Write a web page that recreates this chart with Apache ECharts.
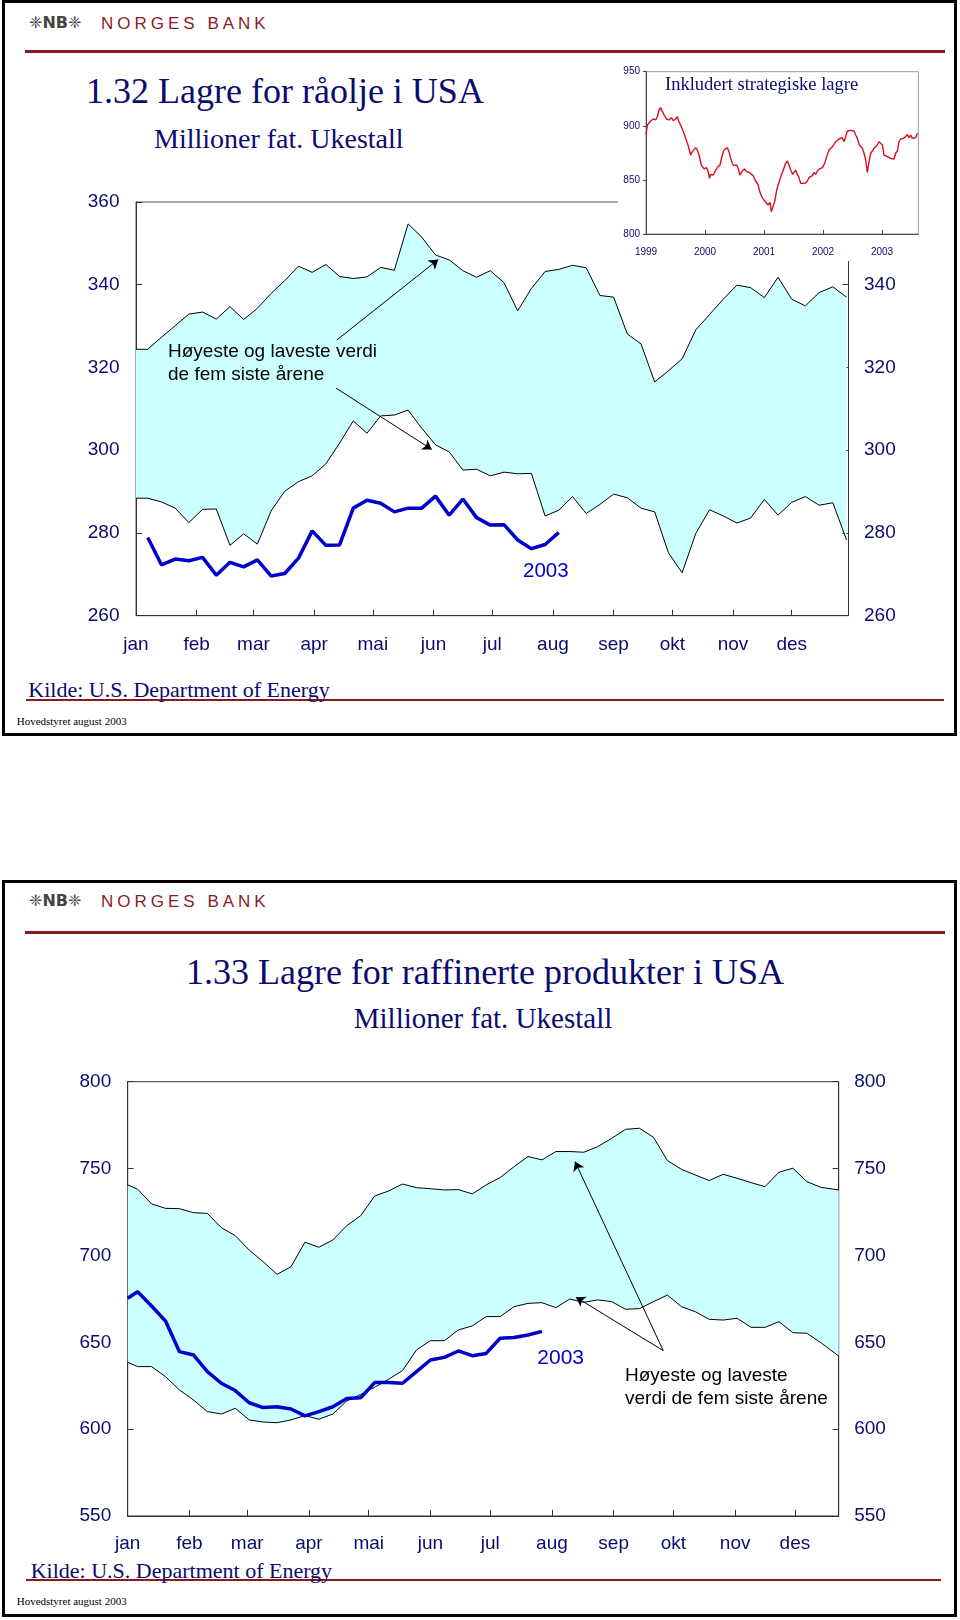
<!DOCTYPE html>
<html>
<head>
<meta charset="utf-8">
<script src="https://cdn.jsdelivr.net/npm/echarts@6/dist/echarts.min.js"></script>
<style>
html,body{margin:0;padding:0;background:#fff;}
#page{position:relative;width:960px;height:1620px;overflow:hidden;background:#fff;}
.abs{position:absolute;white-space:nowrap;}
.serif{font-family:'Liberation Serif','Times New Roman',serif;line-height:1;}
.sans{font-family:'Liberation Sans',Arial,sans-serif;line-height:1;}
.navy{color:#0b0b6e;}
.red{background:#8b1a1a;}
.frame{border:3px solid #000;box-sizing:border-box;}
.nb{font-family:'Liberation Sans',Arial,sans-serif;font-size:17px;line-height:1;color:#8b1a2a;letter-spacing:4px;}
.logo{font-family:'DejaVu Sans',sans-serif;font-size:16px;line-height:1;color:#444;font-weight:bold;}
</style>
</head>
<body>
<div id="page">
  <!-- panel 1 decorations -->
  <div class="abs frame" style="left:2px;top:0;width:955px;height:736px;"></div>
  <div class="abs logo" style="left:29px;top:15px;">&#x2748;NB&#x2748;</div>
  <div class="abs nb" style="left:101px;top:15px;">NORGES BANK</div>
  <div class="abs red" style="left:25px;top:49.5px;width:920px;height:3px;"></div>
  <div class="abs serif navy" style="left:86px;top:73px;font-size:36px;">1.32 Lagre for råolje i USA</div>
  <div class="abs serif navy" style="left:154px;top:124.5px;font-size:28px;">Millioner fat. Ukestall</div>
  <div class="abs red" style="left:26px;top:698.5px;width:918px;height:2px;"></div>
  <div class="abs serif navy" style="left:28.3px;top:679.3px;font-size:22px;">Kilde: U.S. Department of Energy</div>
  <div class="abs serif" style="left:16.7px;top:715.8px;font-size:11px;color:#000;">Hovedstyret august 2003</div>

  <!-- panel 2 decorations -->
  <div class="abs frame" style="left:2px;top:879.5px;width:954.5px;height:737px;"></div>
  <div class="abs logo" style="left:29px;top:893px;">&#x2748;NB&#x2748;</div>
  <div class="abs nb" style="left:101px;top:893px;">NORGES BANK</div>
  <div class="abs red" style="left:25px;top:930.5px;width:920px;height:3px;"></div>
  <div class="abs serif navy" style="left:85px;width:800px;text-align:center;top:954px;font-size:36px;">1.33 Lagre for raffinerte produkter i USA</div>
  <div class="abs serif navy" style="left:83px;width:800px;text-align:center;top:1004.2px;font-size:29px;">Millioner fat. Ukestall</div>
  <div class="abs red" style="left:26px;top:1579px;width:915px;height:2px;"></div>
  <div class="abs serif navy" style="left:30.7px;top:1559.9px;font-size:22px;">Kilde: U.S. Department of Energy</div>
  <div class="abs serif" style="left:16.7px;top:1595.8px;font-size:11px;color:#000;">Hovedstyret august 2003</div>

  <div id="main" class="abs" style="left:0;top:0;width:960px;height:1620px;z-index:1;"></div>
  <div id="inset" class="abs" style="left:618px;top:55px;width:322px;height:206px;background:#fff;z-index:2;"></div>

  <!-- chart annotations -->
  <div class="abs serif navy" style="left:665px;top:75.2px;font-size:18.5px;z-index:3;">Inkludert strategiske lagre</div>
  <div class="abs sans" style="left:168px;top:338.5px;font-size:19px;line-height:23.3px;color:#000;z-index:3;">Høyeste og laveste verdi<br>de fem siste årene</div>
  <div class="abs sans" style="left:523px;top:560px;font-size:20.5px;color:#0000cc;z-index:3;">2003</div>
  <div class="abs sans" style="left:625px;top:1362.5px;font-size:19px;line-height:23.3px;color:#000;z-index:3;">Høyeste og laveste<br>verdi de fem siste årene</div>
  <div class="abs sans" style="left:537.3px;top:1345.5px;font-size:21px;color:#0000cc;z-index:3;">2003</div>
</div>

<script>
// ---------- shared axis data ----------
const monthNames = ['jan','feb','mar','apr','mai','jun','jul','aug','sep','okt','nov','des'];
const monthStartDays = [0,31,60,91,121,152,182,213,244,274,305,335];

// ---------- Chart 1.32: crude oil stocks (mill. barrels), weekly ----------
const c1Days = [0,6,13,20,27,34,41,48,55,62,69,76,83,90,97,104,111,118,125,132,139,146,153,160,167,174,181,188,195,202,209,216,223,230,237,244,251,258,265,272,279,286,293,300,307,314,321,328,335,342,349,356,363];
const c1Upper = [324.4,324.4,327.3,330.1,332.9,333.4,331.7,334.7,331.6,334.3,337.9,341.0,344.5,343.0,344.9,342.0,341.5,341.9,344.2,343.5,354.7,351.5,347.2,346.0,343.4,341.8,343.4,340.5,333.7,339.1,343.2,343.7,344.7,344.1,337.4,337.0,328.1,325.7,316.5,319.2,322.1,329.1,332.8,336.5,339.9,339.3,336.9,341.8,336.5,334.9,338.1,339.5,337.0];
const c1Lower = [288.4,288.4,287.5,286.0,282.5,285.7,285.8,277.0,279.8,277.3,285.3,290.1,292.4,293.8,296.7,301.7,307.1,304.1,308.3,308.5,309.7,305.3,301.3,299.6,295.2,295.4,293.8,294.7,294.3,294.4,284.1,285.5,288.8,284.7,286.9,289.4,288.5,286.0,285.1,275.2,270.4,279.9,285.6,284.1,282.4,283.6,288.1,284.3,287.4,288.8,286.7,287.3,278.3];
const c1Days2003 = [6,13,20,27,34,41,48,55,62,69,76,83,90,97,104,111,118,125,132,139,146,153,160,167,174,181,188,195,202,209,216];
const c1Values2003 = [278.9,272.3,273.7,273.3,274.1,269.8,272.9,271.8,273.5,269.6,270.2,273.9,280.5,277.0,277.1,286.0,287.9,287.2,285.1,286.0,286.0,288.9,284.3,288.2,283.7,281.9,282.0,278.3,276.2,277.2,280.1];
// annotation arrows [tailDay, tailValue, headDay, headValue]
const c1Arrows = [[102.5,326.6,154.4,346.1],[102.2,315.0,151.1,300.2]];

// ---------- Chart 1.33: refined products stocks ----------
const c2Days = [0,5,12,19,26,33,40,47,54,61,68,75,82,89,96,103,110,117,124,131,138,145,152,159,166,173,180,187,194,201,208,215,222,229,236,243,250,257,264,271,278,285,292,299,306,313,320,327,334,341,348,357];
const c2Upper = [740.6,738.1,729.6,727.1,726.9,724.6,724.2,716.0,711.4,703.1,696.4,689.1,693.5,707.6,704.7,708.9,717.1,722.9,734.2,737.1,741.1,739.0,738.4,737.7,737.9,735.4,740.6,744.8,751.1,756.9,755.0,759.8,759.8,759.4,762.6,767.4,772.6,773.2,768.0,754.6,749.6,746.3,743.1,746.7,744.4,741.9,739.6,747.9,750.2,742.5,739.2,737.7];
const c2Lower = [638.5,636.0,636.0,630.2,622.5,616.8,610.1,608.7,612.0,605.3,604.1,603.7,605.3,607.8,605.7,608.7,616.2,620.0,624.1,628.7,633.7,645.6,650.9,650.9,657.1,659.4,664.8,664.8,670.5,672.4,672.8,669.9,674.9,673.0,674.4,673.4,669.0,669.4,673.4,677.2,670.5,667.6,663.2,662.8,663.8,658.6,658.6,661.9,655.5,655.2,649.8,642.1];
const c2Days2003 = [0,5,12,19,26,33,40,47,54,61,68,75,82,89,96,103,110,117,124,131,138,145,152,159,166,173,180,187,194,201,208];
const c2Values2003 = [675.3,679.1,670.9,662.2,644.6,642.7,633.1,626.4,622.2,615.2,612.4,612.9,611.6,607.6,610.1,612.9,617.7,618.1,626.8,626.8,626.4,633.1,639.8,641.3,645.0,642.3,643.6,652.3,652.7,654.2,656.3];
const c2Arrows = [[268.9,645.2,224.6,754.0],[268.9,645.2,225.1,675.9]];

// ---------- Inset: incl. strategic reserves ----------
const insetYearTicks = [1999,2000,2001,2002,2003];
const insetYears = [1999.000,1999.023,1999.079,1999.124,1999.164,1999.192,1999.220,1999.249,1999.277,1999.305,1999.350,1999.390,1999.429,1999.463,1999.503,1999.531,1999.559,1999.599,1999.633,1999.672,1999.712,1999.757,1999.785,1999.814,1999.842,1999.870,1999.898,1999.938,1999.983,2000.028,2000.051,2000.079,2000.096,2000.141,2000.181,2000.220,2000.254,2000.294,2000.322,2000.350,2000.379,2000.407,2000.435,2000.463,2000.492,2000.537,2000.565,2000.593,2000.633,2000.672,2000.706,2000.746,2000.774,2000.819,2000.847,2000.876,2000.898,2000.932,2000.961,2000.989,2001.028,2001.068,2001.102,2001.124,2001.153,2001.181,2001.215,2001.254,2001.294,2001.328,2001.367,2001.395,2001.424,2001.452,2001.486,2001.508,2001.537,2001.565,2001.593,2001.621,2001.650,2001.689,2001.723,2001.763,2001.791,2001.819,2001.847,2001.876,2001.904,2001.944,2001.989,2002.028,2002.062,2002.102,2002.130,2002.158,2002.186,2002.215,2002.243,2002.271,2002.299,2002.328,2002.356,2002.384,2002.412,2002.441,2002.469,2002.497,2002.525,2002.554,2002.582,2002.610,2002.638,2002.667,2002.695,2002.723,2002.751,2002.780,2002.808,2002.836,2002.864,2002.893,2002.921,2002.949,2002.977,2003.006,2003.034,2003.062,2003.090,2003.119,2003.147,2003.175,2003.203,2003.232,2003.260,2003.288,2003.316,2003.362,2003.401,2003.429,2003.458,2003.486,2003.514,2003.542,2003.571,2003.599];
const insetValues = [891.5,900.7,904.4,906.3,905.4,908.4,914.6,916.8,915.5,910.0,906.3,905.4,907.5,904.7,906.3,908.4,903.8,899.2,894.6,888.4,882.3,873.0,876.1,877.6,879.8,877.6,873.0,863.8,860.1,861.3,858.2,851.4,855.1,854.5,859.1,862.2,863.8,873.0,877.6,878.6,879.8,876.1,869.9,865.3,863.2,863.8,860.1,854.5,858.2,860.1,857.6,857.0,858.2,853.9,849.9,849.0,845.9,838.5,834.5,832.3,829.3,826.8,829.3,820.6,820.0,829.9,840.7,847.8,854.5,859.1,865.3,867.5,863.8,859.1,855.1,856.1,859.1,855.1,852.1,846.8,845.9,846.8,847.8,852.1,850.8,853.9,857.0,855.1,858.2,860.1,861.3,865.3,871.5,877.6,879.2,880.7,882.9,885.3,884.7,887.8,886.0,889.0,885.3,890.0,895.2,896.1,895.8,896.7,895.2,891.5,888.4,882.9,881.6,879.2,874.6,868.4,857.0,866.9,874.6,876.7,879.2,877.6,882.3,885.3,886.9,882.3,873.0,873.0,871.5,873.0,869.9,871.5,869.3,874.6,876.7,885.3,887.8,888.4,890.0,892.1,889.0,891.5,888.4,886.9,889.0,893.0];

// ---------- helpers ----------
const navy = '#0b0b6e';
const sansFont = "'Liberation Sans', Arial, sans-serif";
const narrowFont = "'Liberation Sans Narrow', 'Arial Narrow', sans-serif";
function pairs(xs, ys) { return xs.map((x, i) => [x, ys[i]]); }
function arrowData(list) { return list.map(a => [{coord: [a[0], a[1]]}, {coord: [a[2], a[3]]}]); }

function xAxisFor(grid, max) {
  return {
    gridIndex: grid, type: 'value', min: 0, max: max,
    axisLine: {show: true, lineStyle: {color: '#333', width: 1}},
    axisTick: {show: true, inside: true, length: 6, customValues: monthStartDays, lineStyle: {color: '#333'}},
    axisLabel: {show: true, customValues: monthStartDays, color: navy, fontFamily: sansFont, fontSize: 19, margin: grid === 0 ? 20 : 18.5,
      formatter: v => monthNames[monthStartDays.indexOf(v)] || ''},
    splitLine: {show: false}
  };
}
function yAxisFor(grid, pos, min, max, interval) {
  return {
    gridIndex: grid, type: 'value', position: pos, min: min, max: max, interval: interval,
    axisLine: {show: true, onZero: false, lineStyle: {color: '#333', width: 1}},
    axisTick: {show: true, inside: true, length: 6, lineStyle: {color: '#333'}},
    axisLabel: {color: navy, fontFamily: sansFont, fontSize: 19, margin: pos === 'left' ? 16.5 : 15.5},
    splitLine: {show: false}
  };
}
// filled band between the high and low series, drawn through the axis scales
function bandFill(xi, yi, days, hi, lo) {
  return {
    type: 'custom', xAxisIndex: xi, yAxisIndex: yi, silent: true, z: 1,
    data: [[days[0], hi[0]]],
    renderItem: function (params, api) {
      const top = days.map((d, i) => api.coord([d, hi[i]]));
      const bottom = days.map((d, i) => api.coord([d, lo[i]])).reverse();
      return {type: 'polygon', shape: {points: top.concat(bottom)}, style: {fill: '#ccffff', stroke: null}};
    }
  };
}
function bandSeries(xi, yi, days, hi, lo, arrows) {
  return [
    bandFill(xi, yi, days, hi, lo),
    {type: 'line', xAxisIndex: xi, yAxisIndex: yi, data: pairs(days, hi), symbol: 'none',
      lineStyle: {color: '#000', width: 1}, silent: true, z: 2,
      markLine: {silent: true, animation: false, symbol: ['none', 'arrow'], symbolSize: 9,
        lineStyle: {color: '#000', width: 1, type: 'solid'}, label: {show: false},
        emphasis: {disabled: true}, data: arrowData(arrows)}},
    {type: 'line', xAxisIndex: xi, yAxisIndex: yi, data: pairs(days, lo), symbol: 'none',
      lineStyle: {color: '#000', width: 1}, silent: true, z: 2}
  ];
}

const mainChart = echarts.init(document.getElementById('main'), null, {renderer: 'canvas'});
mainChart.setOption({
  animation: false,
  backgroundColor: 'transparent',
  grid: [
    {left: 136, top: 202, width: 712.5, height: 413.7, show: true, borderColor: '#555', borderWidth: 1,
      backgroundColor: 'transparent', containLabel: false, outerBoundsMode: 'none'},
    {left: 127.7, top: 1081.7, width: 711, height: 434.3, show: true, borderColor: '#333', borderWidth: 1,
      backgroundColor: 'transparent', containLabel: false, outerBoundsMode: 'none'}
  ],
  xAxis: [xAxisFor(0, 364), xAxisFor(1, 357)],
  yAxis: [
    yAxisFor(0, 'left', 260, 360, 20), yAxisFor(0, 'right', 260, 360, 20),
    yAxisFor(1, 'left', 550, 800, 50), yAxisFor(1, 'right', 550, 800, 50)
  ],
  series: [].concat(
    bandSeries(0, 0, c1Days, c1Upper, c1Lower, c1Arrows),
    [{type: 'line', xAxisIndex: 0, yAxisIndex: 0, data: pairs(c1Days2003, c1Values2003), symbol: 'none',
      lineStyle: {color: '#0000cc', width: 3.5}, silent: true, z: 3}],
    bandSeries(1, 2, c2Days, c2Upper, c2Lower, c2Arrows),
    [{type: 'line', xAxisIndex: 1, yAxisIndex: 2, data: pairs(c2Days2003, c2Values2003), symbol: 'none',
      lineStyle: {color: '#0000cc', width: 3.5}, silent: true, z: 3}]
  )
});

const insetChart = echarts.init(document.getElementById('inset'), null, {renderer: 'canvas'});
insetChart.setOption({
  animation: false,
  backgroundColor: '#fff',
  grid: {left: 28, top: 16.7, width: 272.3, height: 162.3, show: true, borderColor: '#999', borderWidth: 1,
    containLabel: false, outerBoundsMode: 'none'},
  xAxis: {type: 'value', min: 1999, max: 2003.615,
    axisLine: {show: true, lineStyle: {color: '#444'}},
    axisTick: {show: true, inside: true, length: 4, customValues: insetYearTicks, lineStyle: {color: '#444'}},
    axisLabel: {customValues: insetYearTicks, color: navy, fontSize: 10, fontFamily: narrowFont, margin: 13,
      formatter: v => String(v)},
    splitLine: {show: false}},
  yAxis: {type: 'value', min: 800, max: 950, interval: 50,
    axisLine: {show: true, lineStyle: {color: '#444'}},
    axisTick: {show: true, inside: false, length: 3, lineStyle: {color: '#444'}},
    axisLabel: {color: navy, fontSize: 10, fontFamily: narrowFont, margin: 6, formatter: v => String(v)},
    splitLine: {show: false}},
  series: [{type: 'line', data: pairs(insetYears, insetValues), symbol: 'none',
    lineStyle: {color: '#d81020', width: 1.4}, silent: true}]
});
</script>
</body>
</html>
